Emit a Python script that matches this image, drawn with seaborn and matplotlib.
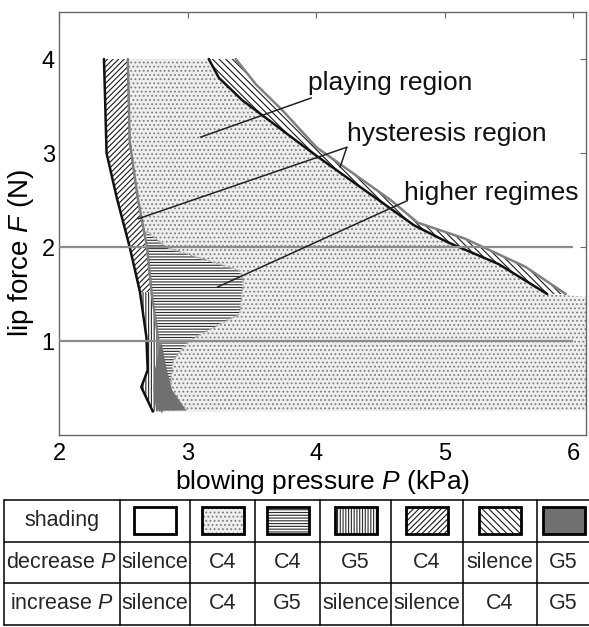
import numpy as np
import matplotlib
matplotlib.use("Agg")
import matplotlib.pyplot as plt
import seaborn as sns
from matplotlib.patches import Rectangle

# ---------------- data (P in kPa, F in N) ----------------
x_ticks = [2, 3, 4, 5, 6]
y_ticks = [1, 2, 3, 4]

# low-pressure threshold, decreasing P (black line)
low_dec_P = [2.35, 2.37, 2.45, 2.55, 2.63, 2.68, 2.69, 2.64, 2.73]
low_dec_F = [4.00, 3.00, 2.52, 2.00, 1.52, 1.04, 0.69, 0.51, 0.25]
# low-pressure threshold, increasing P (grey line)
low_inc_P = [2.535, 2.55, 2.615, 2.685, 2.72, 2.775, 2.80]
low_inc_F = [4.00, 3.12, 2.50, 2.00, 1.52, 1.00, 0.25]
# high-pressure threshold, decreasing P (black line)
high_dec_P = [3.165, 3.244, 3.427, 3.637, 3.846, 4.003, 4.239, 4.527, 4.763, 5.025, 5.418, 5.798]
high_dec_F = [4.00, 3.80, 3.56, 3.345, 3.13, 2.97, 2.74, 2.46, 2.23, 2.05, 1.82, 1.50]
# high-pressure threshold, increasing P (grey line)
high_inc_P = [3.375, 3.532, 3.741, 4.003, 4.292, 4.580, 4.789, 5.156, 5.628, 5.942]
high_inc_F = [4.00, 3.73, 3.45, 3.06, 2.78, 2.50, 2.26, 2.09, 1.79, 1.50]
# playing region continuing to high P below the curve
shelf_P = [6.10, 6.10]
shelf_F = [1.47, 0.26]
# boundary of the higher-regimes region
hr_P = [2.682, 2.837, 3.407, 3.433, 3.407, 3.019, 2.889, 2.863, 2.993]
hr_F = [2.170, 1.994, 1.748, 1.642, 1.290, 1.008, 0.797, 0.480, 0.269]
# G5 / G5 region
g5_left_P = [2.79, 2.745, 2.735, 2.755]
g5_right_P = [2.80, 2.84, 2.88, 2.99]
g5_F = [0.97, 0.69, 0.48, 0.26]
# split between the two low-pressure hysteresis kinds
split_F = 1.52
# horizontal reference lines
ref_F = [1, 2]
ref_P_span = [2, 6]

# annotations: text, text position (P, F), leader segments (P0, F0, P1, F1)
ann_text = ["playing region", "hysteresis region", "higher regimes"]
ann_pos = [(3.94, 3.67), (4.24, 3.13), (4.685, 2.505)]
ann_leaders = [
    [(3.964, 3.586, 3.10, 3.168)],
    [(4.239, 3.061, 2.615, 2.30), (4.239, 3.061, 4.187, 2.849)],
    [(4.711, 2.494, 3.231, 1.573)],
]

# table
row_labels = ["shading", "decrease $P$", "increase $P$"]
decrease_notes = ["silence", "C4", "C4", "G5", "C4", "silence", "G5"]
increase_notes = ["silence", "C4", "G5", "silence", "silence", "C4", "G5"]

# ---------------- styles ----------------
st_white = dict(facecolor="white", edgecolor="none", hatch=None)
st_dots = dict(facecolor="#eeeeee", edgecolor="#7e7e7e", hatch="....")
st_hlines = dict(facecolor="white", edgecolor="#2a2a2a", hatch="-" * 6)
st_vlines = dict(facecolor="white", edgecolor="#2a2a2a", hatch="|" * 6)
st_diag = dict(facecolor="white", edgecolor="#1a1a1a", hatch="/" * 6)
st_anti = dict(facecolor="white", edgecolor="#1a1a1a", hatch="\\" * 5)
st_dark = dict(facecolor="#707070", edgecolor="#5e5e5e", hatch=None)
swatch_styles = [st_white, st_dots, st_hlines, st_vlines, st_diag, st_anti, st_dark]

sns.set_theme(style="white")
plt.rcParams["font.family"] = ["Liberation Sans", "DejaVu Sans"]
plt.rcParams["mathtext.fontset"] = "custom"
plt.rcParams["mathtext.rm"] = "Liberation Sans"
plt.rcParams["mathtext.it"] = "Liberation Sans:italic"
plt.rcParams["hatch.linewidth"] = 0.8

W, H = 589, 627
fig = plt.figure(figsize=(W / 100, H / 100), dpi=100)
fig.patch.set_facecolor("white")
ax = fig.add_axes([59 / W, 1 - 435 / H, (586 - 59) / W, (435 - 12) / H])

def region(Ps, Fs, style, z):
    ax.fill(Ps, Fs, facecolor=style["facecolor"], edgecolor=style["edgecolor"],
            hatch=style["hatch"], linewidth=0, zorder=z)

ldP, ldF = np.array(low_dec_P), np.array(low_dec_F)
liP, liF = np.array(low_inc_P), np.array(low_inc_F)

# playing region (dots)
region(np.r_[liP, shelf_P[::-1], high_dec_P[::-1]],
       np.r_[liF, shelf_F[::-1], high_dec_F[::-1]], st_dots, 1)
# hysteresis strip at high P (\\)
region(np.r_[high_dec_P, high_inc_P[::-1]], np.r_[high_dec_F, high_inc_F[::-1]], st_anti, 2)
# hysteresis strip at low P, upper part (//)
up_d, up_i = ldF >= split_F, liF >= split_F
region(np.r_[ldP[up_d], liP[up_i][::-1]], np.r_[ldF[up_d], liF[up_i][::-1]], st_diag, 2)
# low part (|||)
lo_d, lo_i = ldF <= split_F, liF <= split_F
region(np.r_[ldP[lo_d], liP[lo_i][::-1]], np.r_[ldF[lo_d], liF[lo_i][::-1]], st_vlines, 2)
# higher regimes (horizontal lines)
sel = liF <= max(hr_F)
region(np.r_[hr_P, liP[sel][::-1]], np.r_[hr_F, liF[sel][::-1]], st_hlines, 2)
# G5/G5 region (dark)
region(np.r_[g5_left_P, g5_right_P[::-1]], np.r_[g5_F, g5_F[::-1]], st_dark, 6)

# boundary lines
sns.lineplot(x=hr_P, y=hr_F, sort=False, estimator=None, color="#b0b0b0",
             linewidth=1.4, linestyle=(0, (1, 1)), ax=ax, zorder=4)
sns.lineplot(x=low_inc_P, y=low_inc_F, sort=False, estimator=None, color="#808080",
             linewidth=1.8, ax=ax, zorder=5)
sns.lineplot(x=high_inc_P, y=high_inc_F, sort=False, estimator=None, color="#808080",
             linewidth=1.8, ax=ax, zorder=5)
sns.lineplot(x=low_dec_P, y=low_dec_F, sort=False, estimator=None, color="#111111",
             linewidth=1.8, ax=ax, zorder=6)
sns.lineplot(x=high_dec_P, y=high_dec_F, sort=False, estimator=None, color="#111111",
             linewidth=1.8, ax=ax, zorder=6)

ax.hlines(ref_F, ref_P_span[0], ref_P_span[1], color="#8c8c8c", linewidth=1.6, zorder=7)

for txt, (tp, tf), leaders in zip(ann_text, ann_pos, ann_leaders):
    ax.text(tp, tf, txt, fontsize=19, ha="left", va="baseline", color="#111111", zorder=9)
    for p0, f0, p1, f1 in leaders:
        ax.plot([p0, p1], [f0, f1], color="#222222", linewidth=1.1, zorder=8)

ax.set_xlim(2, 6.1)
ax.set_ylim(0, 4.5)
ax.set_xticks(x_ticks)
ax.set_yticks(y_ticks)
ax.set_xticklabels([str(v) for v in x_ticks])
ax.set_yticklabels([str(v) for v in y_ticks])
ax.tick_params(direction="in", top=True, right=True, length=4, width=0.8,
               color="#666666", labelcolor="black", labelsize=17)
ax.tick_params(axis="x", pad=6)
ax.tick_params(axis="y", pad=3)
for s in ax.spines.values():
    s.set_color("#666666")
    s.set_linewidth(1.0)
ax.set_xlabel("blowing pressure $P$ (kPa)", fontsize=19, labelpad=2, color="black")
ax.set_ylabel("lip force $F$ (N)", fontsize=20, labelpad=1, color="black")
ax.yaxis.set_label_coords(-0.043, 0.43)

# ---------------- table ----------------
tax = fig.add_axes([0, 0, 1, 1], facecolor="none")
tax.set_xlim(0, W)
tax.set_ylim(H, 0)
tax.axis("off")
col_edges = [3.5, 120, 190, 255, 320, 391, 463, 537, 600]
row_edges = [500, 541.5, 583, 624.5]
for xe in col_edges:
    tax.plot([xe, xe], [row_edges[0], row_edges[-1]], color="black", linewidth=1.1)
for ye in row_edges:
    tax.plot([col_edges[0], col_edges[-1]], [ye, ye], color="black", linewidth=1.1)

centers_x = [(a + b) / 2 for a, b in zip(col_edges[:-1], col_edges[1:])]
centers_y = [(a + b) / 2 for a, b in zip(row_edges[:-1], row_edges[1:])]
for r, lab in enumerate(row_labels):
    tax.text(centers_x[0], centers_y[r], lab, ha="center", va="center", fontsize=15.5)
sw_w, sw_h = 42, 27
for c, st in enumerate(swatch_styles):
    cx = centers_x[c + 1]
    if c == len(swatch_styles) - 1:
        cx = col_edges[c + 1] + 6 + sw_w / 2
    tax.add_patch(Rectangle((cx - sw_w / 2, centers_y[0] - sw_h / 2), sw_w, sw_h,
                            facecolor=st["facecolor"], edgecolor=st["edgecolor"],
                            hatch=st["hatch"], linewidth=0))
    tax.add_patch(Rectangle((cx - sw_w / 2, centers_y[0] - sw_h / 2), sw_w, sw_h,
                            facecolor="none", edgecolor="black", linewidth=2.0))
for c, (dn, inn) in enumerate(zip(decrease_notes, increase_notes)):
    cx = centers_x[c + 1]
    if c == len(decrease_notes) - 1:
        cx = (col_edges[c + 1] + W) / 2
    tax.text(cx, centers_y[1], dn, ha="center", va="center", fontsize=15.5)
    tax.text(cx, centers_y[2], inn, ha="center", va="center", fontsize=15.5)

fig.savefig("out.png", dpi=100, facecolor="white")
